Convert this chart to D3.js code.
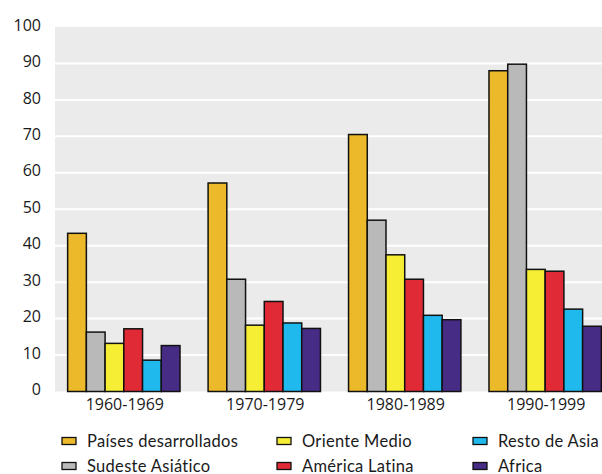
<!DOCTYPE html>
<html>
<head>
<meta charset="utf-8">
<script src="https://cdn.jsdelivr.net/npm/d3@7"></script>
<style>
  html, body { margin: 0; padding: 0; background: #fff; }
  svg { display: block; }
</style>
</head>
<body>
<svg id="chart" width="602" height="474"></svg>
<script>
// Decades (x groups)
const decades = ["1960-1969", "1970-1979", "1980-1989", "1990-1999"];
// Regions (series), in drawing order
const regions = ["Países desarrollados", "Sudeste Asiático", "Oriente Medio", "América Latina", "Resto de Asia", "Africa"];
const regionColors = ["#ecb92b", "#b9b9b9", "#f5ee35", "#e02b36", "#1fb9ee", "#472c85"];
// Values per region, one per decade
const paisesDesarrollados = [43.4, 57.2, 70.5, 88.0];
const sudesteAsiatico     = [16.3, 30.8, 47.0, 89.8];
const orienteMedio        = [13.2, 18.2, 37.5, 33.5];
const americaLatina       = [17.2, 24.7, 30.8, 33.0];
const restoDeAsia         = [8.6, 18.8, 20.9, 22.6];
const africa              = [12.6, 17.3, 19.7, 17.9];
const seriesValues = [paisesDesarrollados, sudesteAsiatico, orienteMedio, americaLatina, restoDeAsia, africa];
const yTicks = [0, 10, 20, 30, 40, 50, 60, 70, 80, 90, 100];

const svg = d3.select("#chart");
const plot = { left: 55, right: 602, top: 27, bottom: 391.5 };

const y = d3.scaleLinear().domain([0, 100]).range([plot.bottom, plot.top]);
const x0 = d3.scaleBand().domain(decades).range([plot.left, 614])
  .paddingInner(0.2).paddingOuter(0.09);
const x1 = d3.scaleBand().domain(regions).range([0, x0.bandwidth()]).padding(0);
const color = d3.scaleOrdinal().domain(regions).range(regionColors);

// Plot background
svg.append("rect")
  .attr("x", plot.left).attr("y", plot.top)
  .attr("width", plot.right - plot.left).attr("height", plot.bottom - plot.top)
  .attr("fill", "#ebebeb");

// Horizontal gridlines
svg.append("g")
  .selectAll("line")
  .data(yTicks.filter(t => t > 0 && t < 100))
  .join("line")
  .attr("x1", plot.left).attr("x2", plot.right)
  .attr("y1", d => y(d)).attr("y2", d => y(d))
  .attr("stroke", "#ffffff").attr("stroke-width", 2);

// Y axis labels
const yAxis = d3.axisLeft(y).tickValues(yTicks).tickSize(0).tickPadding(0);
const gy = svg.append("g")
  .attr("transform", `translate(41,-2)`)
  .call(yAxis);
gy.select(".domain").remove();
gy.selectAll("text")
  .attr("font-family", "'Open Sans', sans-serif")
  .attr("font-size", 16)
  .attr("fill", "#1a1a1a");

// Bars
const rows = [];
decades.forEach((dec, i) => {
  regions.forEach((reg, j) => {
    rows.push({ decade: dec, region: reg, value: seriesValues[j][i] });
  });
});

svg.append("g")
  .selectAll("rect")
  .data(rows)
  .join("rect")
  .attr("x", d => x0(d.decade) + x1(d.region))
  .attr("y", d => y(d.value))
  .attr("width", x1.bandwidth())
  .attr("height", d => y(0) - y(d.value))
  .attr("fill", d => color(d.region))
  .attr("stroke", "#111")
  .attr("stroke-width", 1.5);

// X axis labels
const xAxis = d3.axisBottom(x0).tickSize(0).tickPadding(0);
const gx = svg.append("g")
  .attr("transform", `translate(1,${plot.bottom + 7})`)
  .call(xAxis);
gx.select(".domain").remove();
gx.selectAll("text")
  .attr("font-family", "'Open Sans', sans-serif")
  .attr("font-size", 16)
  .attr("fill", "#1a1a1a");

// Legend: three columns, two rows
const legendCols = [62, 277, 473];
const legendRows = [441, 466];
const legend = svg.append("g")
  .selectAll("g")
  .data(regions)
  .join("g")
  .attr("transform", (d, i) => `translate(${legendCols[Math.floor(i / 2)]},${legendRows[i % 2]})`);
legend.append("rect")
  .attr("x", 0).attr("y", -3.5)
  .attr("width", 14).attr("height", 7)
  .attr("fill", d => color(d))
  .attr("stroke", "#111").attr("stroke-width", 1.3);
legend.append("text")
  .attr("x", 25).attr("y", 5.5)
  .attr("font-family", "Lato, sans-serif")
  .attr("font-size", 16.5)
  .attr("letter-spacing", 0.3)
  .attr("fill", "#1a1a1a")
  .text(d => d);
</script>
</body>
</html>
